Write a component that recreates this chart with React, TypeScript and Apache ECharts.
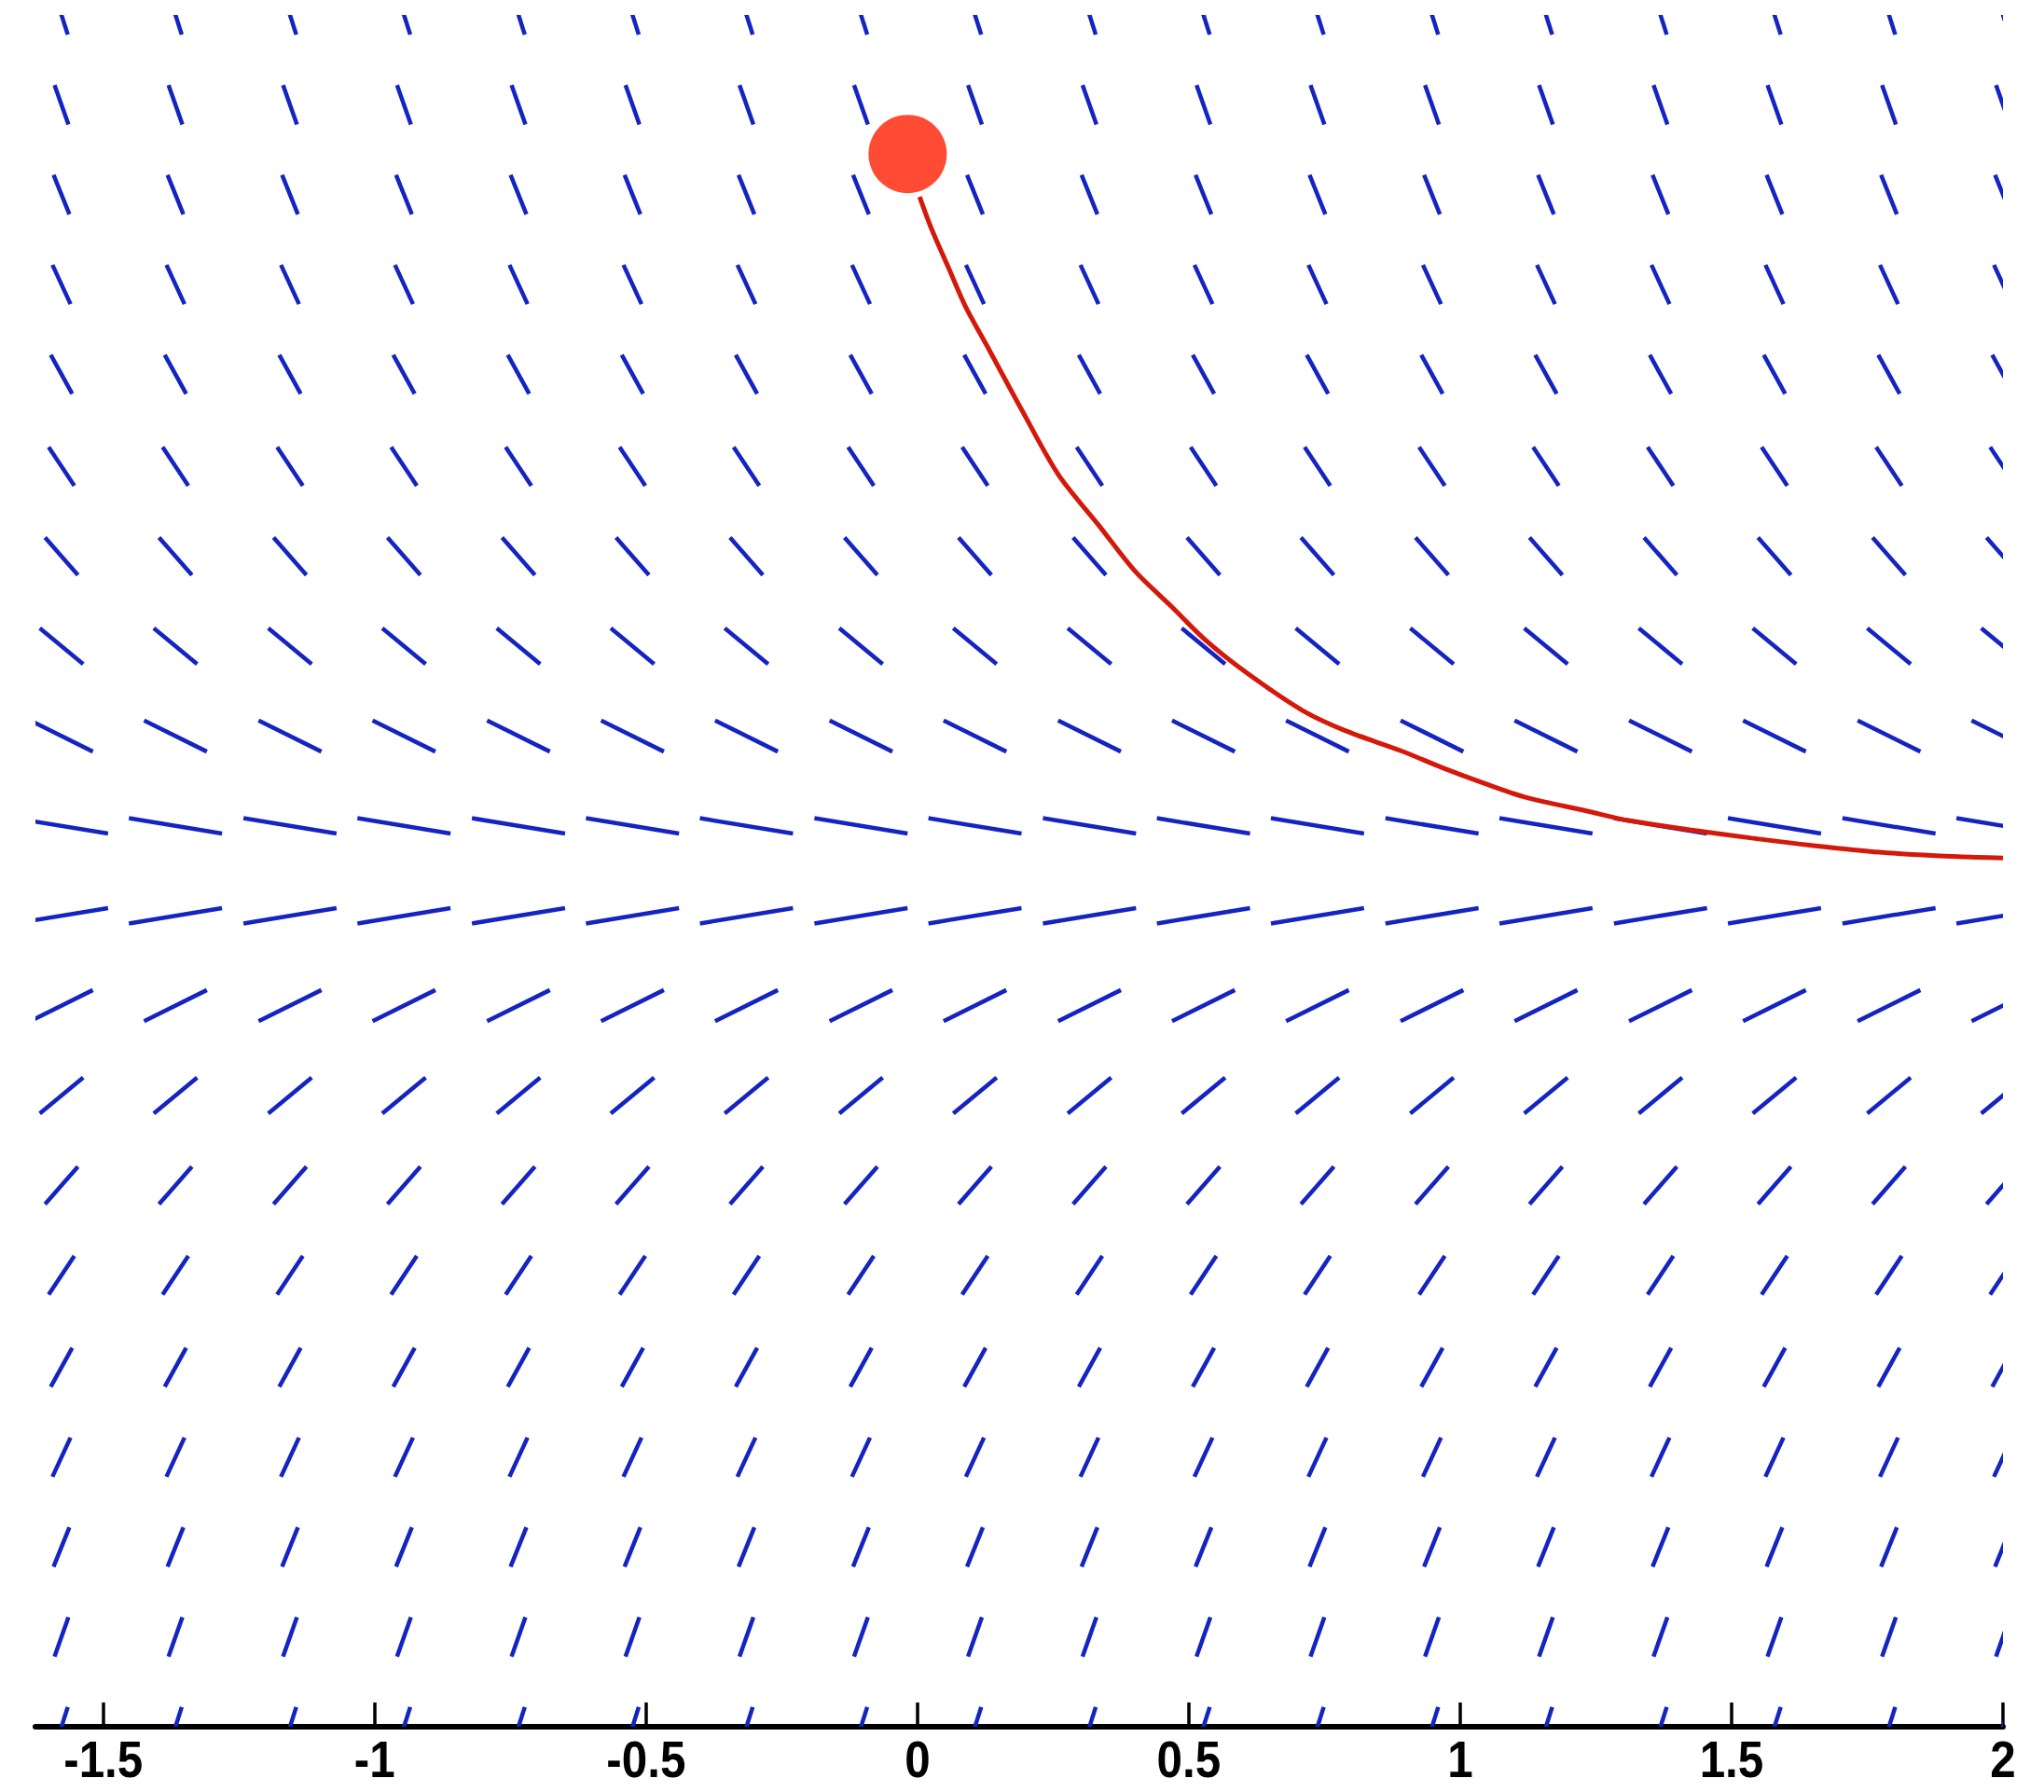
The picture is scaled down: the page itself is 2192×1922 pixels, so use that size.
import React, { useEffect, useRef } from "react";
import * as echarts from "echarts";

// Slope-field grid (data units)
const COLS = [-1.577, -1.367, -1.156, -0.946, -0.735, -0.525, -0.315, -0.104, 0.106, 0.317, 0.527, 0.737, 0.948, 1.158, 1.369, 1.579, 1.79, 2.0];
const ROWS = [4.0, 3.58, 3.16, 2.74, 2.32, 1.89, 1.47, 1.05, 0.63, 0.21, -0.21, -0.63, -1.05, -1.47, -1.89, -2.32, -2.74, -3.16, -3.58, -4.0];
// slope read for each row (same across a row)
const SLOPES = [-8.0, -7.2, -6.3, -5.5, -4.6, -3.8, -2.9, -2.1, -1.26, -0.42, 0.42, 1.26, 2.1, 2.9, 3.8, 4.6, 5.5, 6.3, 7.2, 8.0];

// Red solution curve
const CURVE_X = [0.004, 0.026, 0.057, 0.088, 0.131, 0.193, 0.26, 0.334, 0.401, 0.468, 0.53, 0.604, 0.709, 0.788, 0.892, 0.967, 1.043, 1.119, 1.234, 1.31, 1.423, 1.537, 1.651, 1.773, 1.917, 2.0];
const CURVE_Y = [3.15, 3.0, 2.82, 2.64, 2.44, 2.15, 1.85, 1.615, 1.40, 1.235, 1.08, 0.93, 0.75, 0.655, 0.56, 0.482, 0.41, 0.345, 0.279, 0.235, 0.192, 0.153, 0.118, 0.087, 0.066, 0.06];

// Initial point
const START_X = -0.018;
const START_Y = 3.35;

const X_TICKS = [-1.5, -1, -0.5, 0, 0.5, 1, 1.5, 2];

const SEG_LEN = 0.186;

export default function App() {
  const ref = useRef<HTMLDivElement>(null);
  useEffect(() => {
    if (!ref.current) return;
    const chart = echarts.init(ref.current, null, { renderer: "svg" });
    const field: number[][] = [];
    ROWS.forEach((y, ri) => {
      COLS.forEach((x) => {
        field.push([x, y, SLOPES[ri]]);
      });
    });
    const curve = CURVE_X.map((x, i) => [x, CURVE_Y[i]]);
    chart.setOption({
      animation: false,
      backgroundColor: "#ffffff",
      grid: { left: 38, right: 44, top: 16, bottom: 70 },
      xAxis: {
        type: "value",
        min: -1.625,
        max: 2,
        splitLine: { show: false },
        axisLine: { show: true, onZero: false, lineStyle: { color: "#000", width: 6 } },
        axisTick: {
          show: true,
          inside: true,
          length: 26,
          customValues: X_TICKS,
          lineStyle: { color: "#000", width: 3.5 },
        },
        axisLabel: { show: false },
      },
      yAxis: {
        type: "value",
        min: -4,
        max: 4,
        show: false,
        splitLine: { show: false },
      },
      series: [
        {
          type: "custom",
          clip: true,
          z: 2,
          data: field,
          renderItem: (params: any, api: any) => {
            const x = api.value(0);
            const y = api.value(1);
            const m = api.value(2);
            const n = Math.sqrt(1 + m * m);
            const dx = (SEG_LEN / 2) / n;
            const dy = (SEG_LEN / 2) * m / n;
            const p1 = api.coord([x - dx, y - dy]);
            const p2 = api.coord([x + dx, y + dy]);
            return {
              type: "line",
              shape: { x1: p1[0], y1: p1[1], x2: p2[0], y2: p2[1] },
              style: { stroke: "#1424c0", lineWidth: 4.5, lineCap: "butt" },
            };
          },
        },
        {
          type: "line",
          z: 3,
          data: curve,
          showSymbol: false,
          smooth: 0.3,
          clip: true,
          lineStyle: { color: "#d4180a", width: 5 },
        },
        {
          type: "scatter",
          z: 4,
          data: [[START_X, START_Y]],
          symbol: "circle",
          symbolSize: 84,
          itemStyle: { color: "#ff1e00" },
        },
      ],
    });
    const axisY = chart.convertToPixel({ yAxisIndex: 0 }, -4) as number;
    chart.setOption({
      graphic: X_TICKS.map((v) => ({
        type: "text",
        x: chart.convertToPixel({ xAxisIndex: 0 }, v) as number,
        y: axisY + 34,
        scaleX: 0.95,
        scaleY: 1.08,
        style: {
          text: String(v),
          fill: "#000",
          fontSize: 52,
          lineHeight: 52,
          fontWeight: "bold",
          fontFamily: "'Liberation Sans', Arial, sans-serif",
          align: "center",
          verticalAlign: "middle",
        },
      })),
    });
    return () => chart.dispose();
  }, []);
  return (
    <div
      ref={ref}
      style={{ position: "fixed", left: 0, top: 0, width: 2192, height: 1922, background: "#fff" }}
    />
  );
}
